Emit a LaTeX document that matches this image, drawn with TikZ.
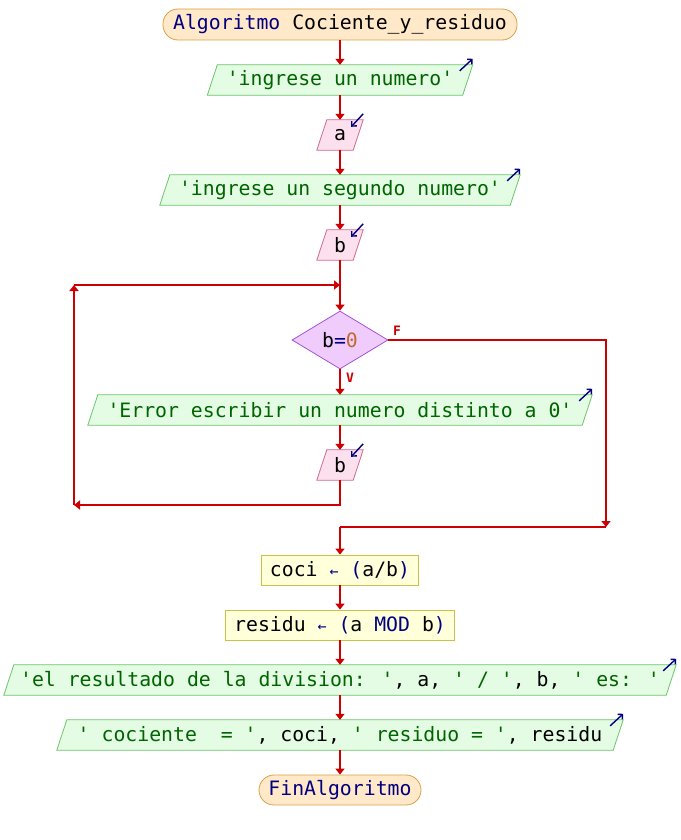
\documentclass[tikz,border=0pt]{standalone}
\usepackage{fontspec}
\newfontfamily\pse[Ligatures=TeXOff]{DejaVu Sans Mono}
\usetikzlibrary{arrows.meta,shapes.geometric}
\pgfdeclarelayer{bg}\pgfsetlayers{bg,main}
\definecolor{cline}{HTML}{CC0000}
\definecolor{kw}{HTML}{000080}
\definecolor{strc}{HTML}{006400}
\definecolor{termf}{HTML}{FFE9C8}
\definecolor{termd}{HTML}{D9A047}
\definecolor{outf}{HTML}{E3FCE3}
\definecolor{outd}{HTML}{6CC46C}
\definecolor{inf}{HTML}{FCE0EE}
\definecolor{ind}{HTML}{CF6A96}
\definecolor{decf}{HTML}{F0CCFC}
\definecolor{decd}{HTML}{A453D6}
\definecolor{procf}{HTML}{FFFFD9}
\definecolor{procd}{HTML}{C9C246}
\definecolor{numc}{HTML}{C06A2A}
\newcommand\kwc[1]{{\color{kw}#1}}
\newcommand\stc[1]{{\color{strc}#1}}
\newcommand\asg{{\color{kw}\fontsize{15pt}{16pt}\selectfont ←}}
\tikzset{
  base/.style={inner sep=0pt,minimum height=30pt,font=\pse\fontsize{19.8pt}{22pt}\selectfont},
  term/.style={base,draw=termd,fill=termf,line width=0.8pt,rounded corners=15pt},
  proc/.style={base,draw=procd,fill=procf,line width=0.8pt},
  iobox/.style={base},
  decbox/.style={base,shape=diamond,draw=decd,fill=decf,line width=0.8pt,minimum width=96pt,minimum height=58pt},
  conn/.style={draw=cline,line width=1.5pt,-{Triangle[length=6pt,width=9pt]}},
  plain/.style={draw=cline,line width=1.5pt},
  icon/.style={draw=kw,line width=1.4pt,-{Straight Barb[length=3.5pt,width=7pt]}},
  lab/.style={text=cline,font=\pse\bfseries\fontsize{13pt}{14pt}\selectfont,inner sep=0pt},
  outpara/.style={draw=outd,fill=outf,line width=0.8pt},
  inpara/.style={draw=ind,fill=inf,line width=0.8pt}
}
\newcommand\para[2]{\begin{pgfonlayer}{bg}\path[#2] ([xshift=5pt]#1.north west) -- ([xshift=5pt]#1.north east) -- ([xshift=-5pt]#1.south east) -- ([xshift=-5pt]#1.south west) -- cycle;\end{pgfonlayer}}
\newcommand\outicon[1]{\draw[icon] ([xshift=-8pt,yshift=-6pt]#1.north east) -- ([xshift=5pt,yshift=6pt]#1.north east);}
\newcommand\inicon[1]{\draw[icon] ([xshift=5pt,yshift=6pt]#1.north east) -- ([xshift=-7pt,yshift=-7pt]#1.north east);}
\begin{document}
\begin{tikzpicture}[x=1pt,y=-1pt]
\begin{pgfonlayer}{bg}
\fill[white] (0,0) rectangle (680,840);
\end{pgfonlayer}
\useasboundingbox (0,0) rectangle (680,840);
% nodes
\node[term,minimum width=354pt,minimum height=31pt] (start) at (340,24.5) {\kwc{Algoritmo} Cociente\_y\_residuo};
\node[iobox,minimum width=255pt] (o1) at (340,80) {\stc{'ingrese un numero'}};
\node[iobox,minimum width=36pt] (a) at (340,135) {a};
\node[iobox,minimum width=350pt] (o2) at (340,190) {\stc{'ingrese un segundo numero'}};
\node[iobox,minimum width=36pt] (b) at (340,245) {b};
\node[decbox] (dia) at (340,340) {b\kwc{=}{\color{numc}0}};
\node[iobox,minimum width=494pt] (err) at (340,410) {\stc{'Error escribir un numero distinto a 0'}};
\node[iobox,minimum width=36pt] (b2) at (340,465) {b};
\node[proc,minimum width=157pt] (coci) at (340,570) {coci \asg{} \kwc{(}a/b\kwc{)}};
\node[proc,minimum width=229pt] (resid) at (340,625) {residu \asg{} \kwc{(}a \kwc{MOD} b\kwc{)}};
\node[iobox,minimum width=662pt] (res) at (340,680) {\stc{'el resultado de la division: '}, a, \stc{' / '}, b, \stc{' es: '}};
\node[iobox,minimum width=556pt] (coc) at (340,735) {\stc{' cociente\ \ = '}, coci, \stc{' residuo = '}, residu};
\node[term,minimum width=162pt] (fin) at (340,790) {\kwc{FinAlgoritmo}};
% parallelograms
\para{o1}{outpara}\para{o2}{outpara}\para{err}{outpara}\para{res}{outpara}\para{coc}{outpara}
\para{a}{inpara}\para{b}{inpara}\para{b2}{inpara}
% icons
\outicon{o1}\outicon{o2}\outicon{err}\outicon{res}\outicon{coc}
\inicon{a}\inicon{b}\inicon{b2}
% coordinates
\coordinate (jt) at (340,285);
\coordinate (lt) at (74,285);
\coordinate (lb) at (74,505);
\coordinate (fr) at (606,527);
\coordinate (mg) at (340,527);
% connectors
\draw[conn] (start.south) -- (o1.north);
\draw[conn] (o1.south) -- (a.north);
\draw[conn] (a.south) -- (o2.north);
\draw[conn] (o2.south) -- (b.north);
\draw[plain] (b.south) -- (jt);
\draw[conn] (jt) -- (dia.north);
\draw[conn] (dia.south) -- (err.north);
\draw[conn] (err.south) -- (b2.north);
\draw[conn] (b2.south) |- (lb);
\draw[conn] (lb) -- (lt);
\draw[conn] (lt) -- (jt);
\draw[conn] (dia.east) -| (fr);
\draw[plain] (fr) -- (mg);
\draw[conn] (mg) -- (coci.north);
\draw[conn] (coci.south) -- (resid.north);
\draw[conn] (resid.south) -- (res.north);
\draw[conn] (res.south) -- (coc.north);
\draw[conn] (coc.south) -- (fin.north);
% labels
\node[lab] (lf) at (397,331) {F};
\node[lab] (lv) at (350,378) {V};
\end{tikzpicture}
\end{document}
